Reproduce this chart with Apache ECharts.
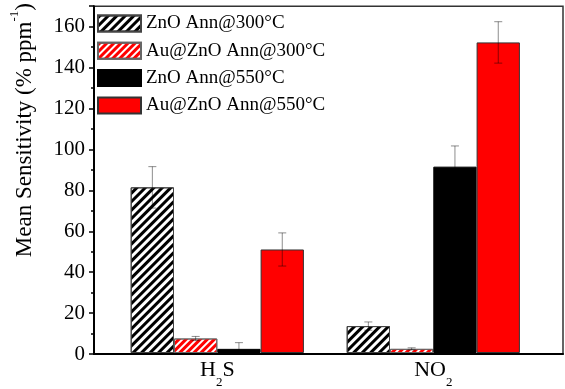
<!DOCTYPE html>
<html>
<head>
<meta charset="utf-8">
<script src="https://cdn.jsdelivr.net/npm/echarts@6/dist/echarts.min.js"></script>
<style>html,body{margin:0;padding:0;background:#fff}#c{width:565px;height:389px}</style>
</head>
<body>
<div id="c"></div>
<script>
// ---- data ----
var categories = ['H2S', 'NO2'];
var seriesNames = ['ZnO Ann@300°C', 'Au@ZnO Ann@300°C', 'ZnO Ann@550°C', 'Au@ZnO Ann@550°C'];
var zno300 = [80, 13];
var zno300Err = [10, 2];
var au300 = [7, 2];
var au300Err = [1, 0.5];
var zno550 = [2, 90];
var zno550Err = [3, 10];
var au550 = [50, 150];
var au550Err = [8, 10];
var yTicks = [0, 20, 40, 60, 80, 100, 120, 140, 160];

// ---- style ----
var FONT = 'Liberation Serif';
var BAR_W = 43.3;
var Y_MAX = 170;
var GRID_TOP = 1, GRID_BOTTOM = 35;

var values = [zno300, au300, zno550, au550];
var errors = [zno300Err, au300Err, zno550Err, au550Err];

var decalBlack = {symbol: 'rect', symbolSize: 1, color: '#000', dashArrayX: [1, 0], dashArrayY: [2.3, 2.2], rotation: -Math.PI / 4};
var decalRed = {symbol: 'rect', symbolSize: 1, color: '#ff0000', dashArrayX: [1, 0], dashArrayY: [2.8, 1.7], rotation: -Math.PI / 4};

var itemStyles = [
  {color: '#fff', borderColor: '#444', borderWidth: 1, decal: decalBlack},
  {color: '#fff', borderColor: '#666', borderWidth: 1, decal: decalRed},
  {color: '#000', borderColor: '#000', borderWidth: 1},
  {color: '#ff0000', borderColor: '#333', borderWidth: 1}
];

var errData = [];
for (var i = 0; i < values.length; i++) {
  for (var j = 0; j < categories.length; j++) {
    errData.push([j, values[i][j] - errors[i][j], values[i][j] + errors[i][j], i]);
  }
}

var series = seriesNames.map(function (name, i) {
  return {
    name: name, type: 'bar', xAxisIndex: 1, yAxisIndex: 1,
    barWidth: BAR_W, barGap: '0%', z: 2,
    itemStyle: itemStyles[i], data: values[i]
  };
});

series.push({
  type: 'custom', xAxisIndex: 1, yAxisIndex: 1, z: 5, silent: true,
  data: errData,
  renderItem: function (params, api) {
    var cat = api.value(0), lo = Math.max(0, api.value(1)), hi = api.value(2), idx = api.value(3);
    var off = (idx - 1.5) * BAR_W;
    var pHi = api.coord([cat, hi]);
    var pLo = api.coord([cat, lo]);
    var x = pHi[0] + off;
    var cap = 4;
    var st = {stroke: 'rgba(0,0,0,0.45)', lineWidth: 1};
    var children = [
      {type: 'line', shape: {x1: x, y1: pHi[1], x2: x, y2: pLo[1]}, style: st},
      {type: 'line', shape: {x1: x - cap, y1: pHi[1], x2: x + cap, y2: pHi[1]}, style: st}
    ];
    if (api.value(1) > 0) {
      children.push({type: 'line', shape: {x1: x - cap, y1: pLo[1], x2: x + cap, y2: pLo[1]}, style: st});
    }
    return {type: 'group', children: children};
  }
});

var labelRich = {
  n: {fontFamily: FONT, fontSize: 22, color: '#000', lineHeight: 30, verticalAlign: 'top'},
  s: {fontFamily: FONT, fontSize: 13, color: '#000', lineHeight: 16, verticalAlign: 'bottom'}
};

var option = {
  animation: false,
  backgroundColor: '#fff',
  grid: [
    {left: 86, right: 2, top: GRID_TOP, bottom: GRID_BOTTOM, show: true, borderColor: '#333', borderWidth: 1.5, backgroundColor: 'transparent'},
    {left: 109.3, right: 23.7, top: GRID_TOP, bottom: GRID_BOTTOM}
  ],
  legend: {
    data: seriesNames, orient: 'vertical', left: 92, top: 9,
    itemWidth: 43, itemHeight: 16, itemGap: 8.3, selectedMode: false,
    icon: 'rect',
    textStyle: {fontFamily: FONT, fontSize: 19, color: '#000'}
  },
  xAxis: [
    {gridIndex: 0, type: 'value', min: 0, max: 1, axisLabel: {show: false}, axisTick: {show: false},
     splitLine: {show: false}, axisLine: {show: true, lineStyle: {color: '#000', width: 2}}},
    {gridIndex: 1, type: 'category', data: categories, boundaryGap: true,
     axisLine: {show: false}, axisTick: {show: false},
     axisLabel: {margin: 6, formatter: function (v) {
       return v === 'H2S' ? '{n|H}{s|2}{n|S}' : '{n|NO}{s|2}';
     }, rich: labelRich}}
  ],
  yAxis: [
    {gridIndex: 0, type: 'value', min: 0, max: Y_MAX, interval: 20,
     axisLine: {show: true, lineStyle: {color: '#000', width: 2}},
     axisTick: {show: true, length: 5, inside: false, lineStyle: {color: '#000', width: 1.5}},
     minorTick: {show: true, splitNumber: 2, length: 3, lineStyle: {color: '#000', width: 1.5}},
     splitLine: {show: false},
     axisLabel: {margin: 9, fontFamily: FONT, fontSize: 21, color: '#000', showMaxLabel: false,
       formatter: function (v) { return yTicks.indexOf(v) >= 0 ? String(v) : ''; }},
     name: '{t|Mean Sensitivity (% ppm}{u|-1}{t|)}',
     nameLocation: 'middle', nameGap: 58,
     nameTextStyle: {padding: [0, 0, 0, 100], rich: {
       t: {fontFamily: FONT, fontSize: 23, color: '#000', lineHeight: 28, verticalAlign: 'bottom'},
       u: {fontFamily: FONT, fontSize: 13, color: '#000', lineHeight: 28, verticalAlign: 'top'}
     }}},
    {gridIndex: 1, type: 'value', min: 0, max: Y_MAX, show: false, splitLine: {show: false}}
  ],
  series: series
};

var chart = echarts.init(document.getElementById('c'), null, {renderer: 'canvas'});
chart.setOption(option);
</script>
</body>
</html>
